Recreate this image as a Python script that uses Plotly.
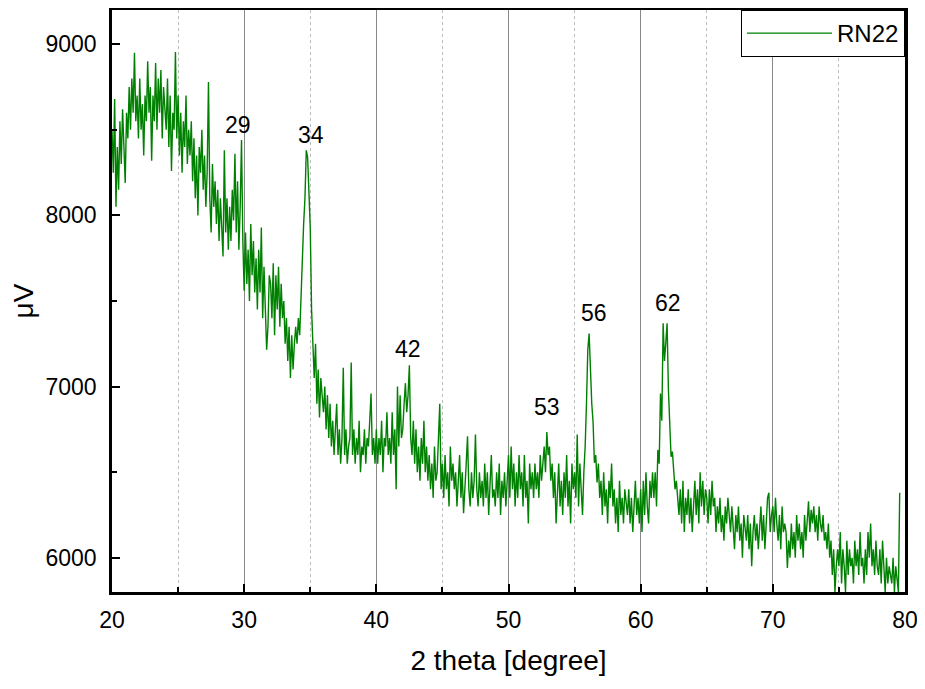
import numpy as np
import plotly.graph_objects as go

# 2 theta from 20.0 to 79.6 in 0.1 steps
two_theta = np.round(np.arange(200, 797) / 10.0, 1)

intensity = [
    8500, 8250, 8680, 8050, 8400, 8150, 8550, 8300, 8620, 8450,  # 20
    8190, 8600, 8450, 8750, 8500, 8800, 8600, 8950, 8550, 8700,  # 21
    8450, 8800, 8500, 8650, 8350, 8700, 8550, 8900, 8600, 8750,  # 22
    8320, 8700, 8550, 8890, 8500, 8800, 8600, 8850, 8450, 8750,  # 23
    8650, 8500, 8800, 8400, 8700, 8260, 8600, 8500, 8955, 8450,  # 24
    8700, 8350, 8600, 8250, 8550, 8400, 8700, 8300, 8500, 8350,  # 25
    8550, 8200, 8450, 8100, 8350, 8000, 8400, 8250, 8500, 8150,  # 26
    8350, 8050, 8250, 8780, 8100, 7900, 8300, 8050, 8200, 7950,  # 27
    8150, 7850, 8100, 7950, 7760, 8380, 7900, 8100, 7800, 8050,  # 28
    7850, 8150, 7970, 8360, 7900, 8200, 7800, 8050, 8440, 7850,  # 29
    7560, 7900, 7600, 7800, 7500, 7950, 7650, 7850, 7550, 7750,  # 30
    7450, 7800, 7550, 7930, 7400, 7700, 7500, 7215, 7350, 7650,  # 31
    7600, 7400, 7720, 7300, 7650, 7450, 7700, 7350, 7600, 7400,  # 32
    7500, 7250, 7400, 7150, 7350, 7050, 7300, 7100, 7250, 7350,  # 33
    7250, 7400, 7300, 7550, 7700, 7950, 8100, 8380, 8340, 8100,  # 34
    7930, 7450, 7175, 7050, 7250, 6900, 7100, 6820, 7050, 6950,  # 35
    6850, 7000, 6750, 6950, 6700, 6900, 6650, 6800, 6600, 6750,  # 36
    6900, 6600, 6750, 6550, 6700, 7110, 6600, 6750, 6550, 6650,  # 37
    6700, 7140, 6600, 6750, 6550, 6700, 6600, 6800, 6500, 6650,  # 38
    6600, 6750, 6550, 6700, 6650, 6800, 6960, 6600, 6700, 6550,  # 39
    6750, 6550, 6700, 6600, 6800, 6500, 6700, 6650, 6850, 6600,  # 40
    6700, 6550, 6850, 6600, 6750, 6400, 7000, 6650, 6950, 6700,  # 41
    6750, 6900, 7020, 6850, 6950, 7125, 6700, 6600, 6800, 6550,  # 42
    6750, 6500, 6650, 6450, 6700, 6550, 6800, 6500, 6650, 6450,  # 43
    6600, 6400, 6550, 6350, 6650, 6450, 6500, 6700, 6900, 6400,  # 44
    6550, 6350, 6600, 6400, 6500, 6300, 6650, 6450, 6550, 6400,  # 45
    6500, 6300, 6450, 6600, 6350, 6500, 6260, 6450, 6550, 6710,  # 46
    6400, 6300, 6500, 6350, 6450, 6720, 6400, 6300, 6500, 6350,  # 47
    6450, 6300, 6550, 6350, 6500, 6250, 6450, 6600, 6350, 6400,  # 48
    6300, 6500, 6350, 6550, 6250, 6450, 6350, 6500, 6300, 6450,  # 49
    6600, 6350, 6650, 6400, 6550, 6300, 6500, 6350, 6600, 6400,  # 50
    6500, 6300, 6600, 6350, 6450, 6200, 6550, 6400, 6500, 6350,  # 51
    6550, 6400, 6500, 6350, 6600, 6450, 6550, 6650, 6500, 6735,  # 52
    6600, 6650, 6450, 6550, 6350, 6500, 6200, 6400, 6550, 6300,  # 53
    6450, 6250, 6500, 6350, 6600, 6300, 6450, 6200, 6550, 6400,  # 54
    6500, 6350, 6720, 6300, 6550, 6400, 6250, 6500, 6650, 6900,  # 55
    7215, 7310, 7080, 6900, 6790, 6555, 6600, 6440, 6550, 6350,  # 56
    6450, 6250, 6500, 6300, 6400, 6200, 6450, 6350, 6550, 6300,  # 57
    6400, 6200, 6350, 6150, 6450, 6250, 6350, 6200, 6400, 6300,  # 58
    6250, 6400, 6200, 6350, 6150, 6300, 6450, 6250, 6350, 6200,  # 59
    6400, 6150, 6450, 6250, 6500, 6300, 6200, 6450, 6350, 6500,  # 60
    6350, 6500, 6300, 6630, 6550, 6960, 6800, 7370, 7150, 7255,  # 61
    7370, 6980, 6730, 6590, 6620, 6510, 6400, 6450, 6355, 6250,  # 62
    6400, 6200, 6450, 6150, 6350, 6250, 6400, 6200, 6350, 6150,  # 63
    6300, 6450, 6250, 6400, 6200, 6500, 6300, 6450, 6250, 6400,  # 64
    6350, 6200, 6400, 6250, 6450, 6300, 6350, 6150, 6300, 6200,  # 65
    6350, 6150, 6250, 6100, 6300, 6200, 6350, 6250, 6150, 6300,  # 66
    6200, 6050, 6250, 6150, 6300, 6100, 6200, 6000, 6250, 6150,  # 67
    6100, 6250, 6050, 6200, 5950, 6150, 6250, 6100, 6200, 6050,  # 68
    6150, 6300, 6100, 6250, 6050, 6200, 6350, 6380, 6150, 6250,  # 69
    6300, 6150, 6350, 6200, 6100, 6250, 6050, 6300, 6150, 6200,  # 70
    6150, 5940, 6100, 6000, 6200, 6050, 6150, 6000, 6250, 6100,  # 71
    6200, 6050, 6150, 6000, 6250, 6100, 6200, 6330, 6150, 6280,  # 72
    6200, 6300, 6150, 6250, 6100, 6300, 6200, 6150, 6250, 6100,  # 73
    6150, 6050, 6200, 6000, 6100, 5900, 6050, 5800, 5950, 6050,  # 74
    5950, 6150, 5850, 6050, 5950, 5800, 6100, 5900, 6050, 5950,  # 75
    6000, 5850, 6100, 5950, 6050, 5900, 6150, 5950, 6000, 5850,  # 76
    6050, 5900, 6150, 6000, 6200, 5950, 6050, 5900, 6100, 5950,  # 77
    5900, 6050, 5850, 6100, 5950, 5800, 6000, 5850, 5950, 5900,  # 78
    5850, 6000, 5800, 5950, 5850, 5800, 6380,                    # 79
]

# peak labels
peak_labels = ['29', '34', '42', '53', '56', '62']
peak_x = [29.5, 35.05, 42.4, 52.9, 56.45, 62.05]
peak_y = [8530, 8470, 7220, 6880, 7430, 7490]

fig = go.Figure()
fig.add_trace(go.Scatter(x=two_theta, y=intensity, mode='lines', name='RN22',
                         line=dict(color='#008000', width=1.4)))

for lab, px_, py_ in zip(peak_labels, peak_x, peak_y):
    fig.add_annotation(x=px_, y=py_, text=lab, showarrow=False,
                       font=dict(size=23, color='black'))

axis_font = dict(family='Liberation Sans, Arial', size=23, color='black')

# the page has an 8px body margin, so the figure is a bit smaller
fig.update_layout(
    width=917, height=681,
    margin=dict(l=104, r=20, t=2, b=97, autoexpand=False),
    plot_bgcolor='white', paper_bgcolor='white',
    font=dict(family='Liberation Sans, Arial', color='black'),
    showlegend=True,
    legend=dict(x=1, y=1, xanchor='right', yanchor='top',
                bordercolor='black', borderwidth=1, bgcolor='white',
                font=dict(size=24, color='black'),
                itemwidth=85),
)

fig.update_xaxes(
    range=[20, 80], dtick=10, tick0=20,
    showline=True, linecolor='black', linewidth=2.5, mirror=True,
    ticks='inside', ticklen=8, tickwidth=2, tickcolor='black',
    tickfont=axis_font, ticklabelstandoff=6,
    showgrid=True, gridcolor='#888888', gridwidth=1,
    minor=dict(dtick=5, ticks='inside', ticklen=5, tickwidth=2, tickcolor='black',
               showgrid=True, gridcolor='#bbbbbb', griddash='dot', gridwidth=1),
    title=dict(text='2 theta [degree]', font=dict(size=28, color='black'), standoff=19),
    zeroline=False, automargin=False,
)

fig.update_yaxes(
    range=[5800, 9200], dtick=1000, tick0=6000,
    showline=True, linecolor='black', linewidth=2.5, mirror=True,
    ticks='inside', ticklen=8, tickwidth=2, tickcolor='black',
    tickfont=axis_font, ticklabelstandoff=8,
    showgrid=False,
    minor=dict(dtick=500, ticks='inside', ticklen=5, tickwidth=2, tickcolor='black',
               showgrid=False),
    title=dict(text='μV', font=dict(size=28, color='black'), standoff=4),
    zeroline=False, automargin=False,
)

fig.write_html("out.html")
